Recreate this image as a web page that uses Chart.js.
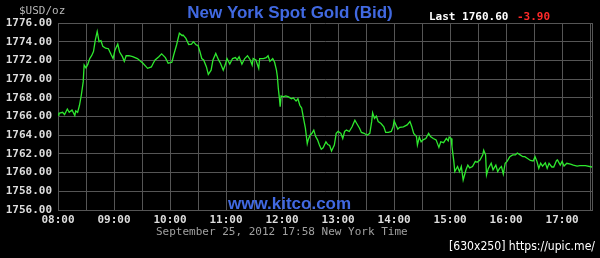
<!DOCTYPE html>
<html>
<head>
<meta charset="utf-8">
<script src="https://cdn.jsdelivr.net/npm/chart.js@4/dist/chart.umd.min.js"></script>
<style>
  html,body{margin:0;padding:0;background:#000;overflow:hidden;}
  canvas{display:block;}
</style>
</head>
<body>
<canvas id="goldChart" width="600" height="258"></canvas>
<script>
// minutes after 08:00 New York time, and spot bid in $USD/oz
const minutes = [0,1,5,7,10,12,15,18,19,21,23,25,27,28,30,32,34,36,38,40,42,44,46,48,51,54,57,59,61,64,66,69,71,73,76,80,85,91,96,100,
  102,104,108,111,115,118,122,124,127,130,133,134,137,140,143,145,148,150,152,154,156,159,161,164,166,169,172,174,177,179,
  181,184,187,190,192,194,197,200,203,206,208,209,212,215,216,220,223,225,227,230,232,234,235,236,237,238,239,241,244,247,
  250,252,255,257,259,261,263,265,267,268,270,272,274,276,278,280,282,284,287,289,291,293,296,298,300,303,305,307,309,312,
  315,318,320,323,325,328,331,334,336,337,339,341,343,346,349,351,354,357,359,360,362,364,366,370,374,377,379,381,384,385,
  387,389,391,394,397,399,402,405,408,410,413,416,418,419,421,422,424,425,428,430,432,434,437,439,441,444,447,449,452,455,
  456,458,459,461,464,466,469,471,473,475,477,479,481,484,487,490,492,495,498,500,503,506,509,511,513,515,517,519,522,524,
  526,529,531,534,535,538,540,542,545,549,552,556,559,565,572];
const bids = [1766.16,1766.34,1766.45,1766.2,1766.8,1766.45,1766.7,1766.1,1766.6,1766.45,1767.2,1768.3,1769.7,1771.5,1771.2,1771.6,1772.2,1772.5,1772.95,1774.2,
  1775.1,1774.0,1774.1,1773.5,1773.3,1773.25,1772.6,1772.2,1773.1,1773.75,1772.9,1772.4,1771.9,1772.5,1772.5,1772.4,1772.2,1771.7,1771.15,1771.3,
  1771.7,1772.05,1772.4,1772.7,1772.3,1771.7,1771.8,1772.6,1773.65,1774.9,1774.65,1774.7,1774.35,1773.7,1773.75,1774.0,1773.65,1773.6,1772.95,1772.2,
  1772.05,1771.3,1770.5,1770.95,1772.05,1772.75,1772.05,1771.7,1770.95,1771.5,1772.2,1771.6,1772.2,1772.3,1772.05,1772.4,1771.6,1772.2,1772.5,1772.05,
  1771.5,1772.2,1772.05,1771.15,1772.2,1772.2,1772.3,1772.5,1771.9,1772.2,1771.8,1770.95,1770.25,1769.0,1768.1,1767.05,1768.2,1768.1,1768.2,1768.1,
  1767.9,1768.0,1767.65,1767.9,1767.2,1766.9,1765.8,1764.75,1763.1,1763.5,1764.0,1764.2,1764.55,1763.85,1763.5,1762.95,1762.5,1762.65,1763.3,1763.0,
  1762.9,1762.3,1762.95,1764.2,1764.4,1764.2,1763.65,1764.4,1764.55,1764.4,1764.9,1765.6,1765.25,1764.75,1764.3,1764.2,1764.0,1764.2,1765.45,1766.4,
  1765.8,1766.05,1765.45,1765.25,1764.9,1764.3,1764.3,1764.4,1764.9,1765.55,1765.1,1764.65,1764.85,1764.9,1765.1,1765.45,1764.9,1764.2,1763.85,1762.95,
  1763.8,1763.3,1763.5,1763.65,1764.2,1763.85,1763.65,1763.5,1762.7,1763.3,1763.2,1763.65,1763.4,1763.8,1763.65,1762.8,1761.2,1760.1,1760.65,1760.1,
  1760.65,1759.2,1760.3,1760.8,1760.5,1760.65,1761.2,1761.1,1761.35,1761.9,1762.4,1761.9,1759.75,1760.45,1761.0,1760.3,1760.8,1760.1,1760.45,1760.65,
  1759.85,1761.0,1761.2,1761.7,1761.9,1761.9,1762.1,1761.9,1761.7,1761.7,1761.5,1761.3,1761.25,1761.7,1761.2,1760.45,1761.0,1760.7,1761.05,1760.45,
  1761.0,1760.6,1760.6,1761.3,1761.35,1760.8,1761.2,1760.7,1761.0,1760.9,1760.8,1760.7,1760.75,1760.75,1760.6];

// grid every half hour, labels on the hour
const gridMinutes = [0,30,60,90,120,150,180,210,240,270,300,330,360,390,420,450,480,510,540,570,572];
const hourLabels = ['08:00','09:00','10:00','11:00','12:00','13:00','14:00','15:00','16:00','17:00'];

const lastBid = '1760.60';
const change = '-3.90';
const stamp = 'September 25, 2012 17:58 New York Time';

const gridColor = '#555';
const mono = '"DejaVu Sans Mono", "Liberation Mono", monospace';

// headings and captions around the plot
const captions = {
  id:'captions',
  afterDraw(chart){
    const c = chart.ctx;
    c.save();
    c.textBaseline = 'alphabetic';
    c.textAlign = 'center';
    c.fillStyle = '#4169e1';
    c.font = 'bold 17px "Liberation Sans", Arial, sans-serif';
    c.fillText('New York Spot Gold (Bid)', 290, 17.5);

    c.textAlign = 'left';
    c.fillText('www.kitco.com', 228, 209);

    c.font = '11px ' + mono;
    c.fillStyle = '#b8b8b8';
    c.fillText('$USD/oz', 19, 14);

    c.font = 'bold 11px ' + mono;
    c.fillStyle = '#fff';
    c.fillText('Last ' + lastBid, 429, 19.5);
    c.fillStyle = '#ff2a2a';
    c.fillText(change, 517, 19.5);

    c.font = '11px ' + mono;
    c.fillStyle = '#a0a0a0';
    c.fillText(stamp, 156, 235);

    c.font = '12px "DejaVu Sans", sans-serif';
    c.fillStyle = '#fff';
    c.fillText('[630x250] https://upic.me/', 449, 250, 146);
    c.restore();
  }
};

function renderChart(){
  const ctx = document.getElementById('goldChart').getContext('2d');
  const points = minutes.map((m,i)=>({x:m, y:bids[i]}));
  new Chart(ctx,{
    type:'line',
    data:{datasets:[{data:points, borderColor:'#2ee82e', borderWidth:1.3, pointRadius:0, tension:0, fill:false}]},
    options:{
      responsive:false,
      animation:false,
      layout:{padding:{top:23, right:8, left:0, bottom:0}},
      plugins:{legend:{display:false}, tooltip:{enabled:false}, title:{display:false}},
      scales:{
        x:{
          type:'linear', min:0, max:572,
          afterBuildTicks(s){ s.ticks = gridMinutes.map(v=>({value:v})); },
          afterFit(s){ s.height = 48; },
          grid:{color:gridColor, drawTicks:false},
          border:{color:gridColor},
          ticks:{
            autoSkip:false, maxRotation:0, padding:4, color:'#ddd',
            font:{family:mono, size:11, weight:'bold'},
            callback(v){ return v%60===0 ? hourLabels[v/60] : ''; }
          }
        },
        y:{
          min:1756, max:1776,
          afterFit(s){ s.width = 58; },
          grid:{color:gridColor, drawTicks:false},
          border:{color:gridColor},
          ticks:{
            stepSize:2, padding:6, color:'#ddd',
            font:{family:mono, size:11, weight:'bold'},
            callback(v){ return v.toFixed(2); }
          }
        }
      }
    },
    plugins:[captions]
  });
}

window.addEventListener('DOMContentLoaded', renderChart);
</script>
</body>
</html>
